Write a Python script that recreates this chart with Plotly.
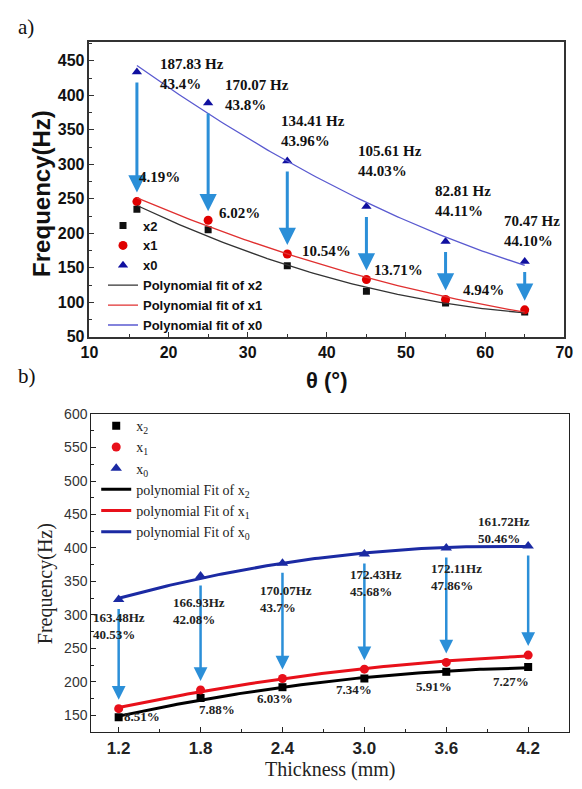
import numpy as np
import plotly.graph_objects as go

# ---------------- data: panel a ----------------
theta = [16, 25, 35, 45, 55, 65]
a_x2 = [235, 205, 153, 116, 99, 86]
a_x1 = [246, 219, 170, 133, 104, 89]
a_x0 = [434, 389, 305, 239, 188, 159]
a_top_labels = ["187.83 Hz<br>43.4%", "170.07 Hz<br>43.8%", "134.41 Hz<br>43.96%",
                "105.61 Hz<br>44.03%", "82.81 Hz<br>44.11%", "70.47 Hz<br>44.10%"]
a_pct_labels = ["4.19%", "6.02%", "10.54%", "13.71%", "4.94%"]

# ---------------- data: panel b ----------------
thick = [1.2, 1.8, 2.4, 3.0, 3.6, 4.2]
b_x2 = [147, 176, 192, 205, 215, 222]
b_x1 = [160, 188, 205, 219, 229, 240]
b_x0 = [323, 358, 377, 391, 400, 403]
b_top_labels = ["163.48Hz<br>40.53%", "166.93Hz<br>42.08%", "170.07Hz<br>43.7%",
                "172.43Hz<br>45.68%", "172.11Hz<br>47.86%", "161.72Hz<br>50.46%"]
b_pct_labels = ["8.51%", "7.88%", "6.03%", "7.34%", "5.91%", "7.27%"]

# label anchor positions (data coords, left/middle anchored)
a_top_pos = [(18.7, 430.8), (26.9, 400.9), (34.0, 348.2), (43.67, 304.1), (53.47, 246.4), (62.16, 203.0)]
a_pct_pos = [(16.0, 282.0), (26.16, 229.4), (36.57, 173.8), (45.75, 146.8), (56.9, 118.3)]
b_top_pos = [(1.0, 284.0), (1.585, 306.5), (2.219, 323.3), (2.882, 347.3), (3.473, 356.1), (3.815, 427.4)]
b_pct_pos = [(1.221, 148.5), (1.777, 158.7), (2.198, 174.8), (2.775, 187.9), (3.366, 193.7), (3.929, 201.0)]

W, H = 582, 789
ARIAL = "Arial, Liberation Sans, sans-serif"
TIMES = "Times New Roman, Liberation Serif, serif"
ARROW = "#2b8fd8"


def fit(x, y, deg=2):
    c = np.polyfit(x, y, deg)
    xs = np.linspace(min(x), max(x), 120)
    return xs, np.polyval(c, xs)


fig = go.Figure()

# ---- panel a traces ----
fig.add_trace(go.Scatter(x=theta, y=a_x2, mode="markers", name="x2",
                         marker=dict(symbol="square", size=7, color="#111111"),
                         xaxis="x", yaxis="y", legend="legend"))
fig.add_trace(go.Scatter(x=theta, y=a_x1, mode="markers", name="x1",
                         marker=dict(symbol="circle", size=9, color="#e00000"),
                         xaxis="x", yaxis="y", legend="legend"))
fig.add_trace(go.Scatter(x=theta, y=a_x0, mode="markers", name="x0",
                         marker=dict(symbol="triangle-up", size=9, color="#1010a0"),
                         xaxis="x", yaxis="y", legend="legend"))
for ys, col, nm in [(a_x2, "#333333", "Polynomial fit of x2"),
                    (a_x1, "#e03030", "Polynomial fit of x1"),
                    (a_x0, "#5a5ad0", "Polynomial fit of x0")]:
    xs, yf = fit(theta, ys)
    fig.add_trace(go.Scatter(x=xs, y=yf, mode="lines", name=nm,
                             line=dict(color=col, width=1.3),
                             xaxis="x", yaxis="y", legend="legend"))

# ---- panel b traces ----
fig.add_trace(go.Scatter(x=thick, y=b_x2, mode="markers", name="x<sub>2</sub>",
                         marker=dict(symbol="square", size=8, color="#000000"),
                         xaxis="x2", yaxis="y2", legend="legend2"))
fig.add_trace(go.Scatter(x=thick, y=b_x1, mode="markers", name="x<sub>1</sub>",
                         marker=dict(symbol="circle", size=9, color="#e8101a"),
                         xaxis="x2", yaxis="y2", legend="legend2"))
fig.add_trace(go.Scatter(x=thick, y=b_x0, mode="markers", name="x<sub>0</sub>",
                         marker=dict(symbol="triangle-up", size=10, color="#1b2aa3"),
                         xaxis="x2", yaxis="y2", legend="legend2"))
for ys, col, nm in [(b_x2, "#000000", "polynomial Fit of x<sub>2</sub>"),
                    (b_x1, "#e8101a", "polynomial Fit of x<sub>1</sub>"),
                    (b_x0, "#1b2aa3", "polynomial Fit of x<sub>0</sub>")]:
    xs, yf = fit(thick, ys)
    fig.add_trace(go.Scatter(x=xs, y=yf, mode="lines", name=nm,
                             line=dict(color=col, width=3),
                             xaxis="x2", yaxis="y2", legend="legend2"))

ann = []
# arrows panel a
for xv, y0, y1 in zip(theta, a_x0, a_x1):
    ann.append(dict(x=xv, y=y1, ax=xv, ay=y0, xref="x", yref="y", axref="x", ayref="y",
                    text="", showarrow=True, arrowhead=2, arrowsize=1.15, arrowwidth=3,
                    arrowcolor=ARROW, standoff=9, startstandoff=9))
for (px, py), t in zip(a_top_pos, a_top_labels):
    ann.append(dict(x=px, y=py, xref="x", yref="y", text=t, showarrow=False,
                    xanchor="left", yanchor="middle", align="left",
                    font=dict(family=TIMES, size=15, color="#111111", weight="bold")))
for (px, py), t in zip(a_pct_pos, a_pct_labels):
    ann.append(dict(x=px, y=py, xref="x", yref="y", text=t, showarrow=False,
                    xanchor="left", yanchor="middle", align="left",
                    font=dict(family=TIMES, size=15, color="#111111", weight="bold")))
# arrows panel b
for xv, y0, y1 in zip(thick, b_x0, b_x1):
    ann.append(dict(x=xv, y=y1, ax=xv, ay=y0, xref="x2", yref="y2", axref="x2", ayref="y2",
                    text="", showarrow=True, arrowhead=2, arrowsize=1.1, arrowwidth=2.5,
                    arrowcolor=ARROW, standoff=9, startstandoff=8))
for (px, py), t in zip(b_top_pos, b_top_labels):
    ann.append(dict(x=px, y=py, xref="x2", yref="y2", text=t, showarrow=False,
                    xanchor="left", yanchor="middle", align="left",
                    font=dict(family=TIMES, size=13, color="#222222", weight="bold")))
for (px, py), t in zip(b_pct_pos, b_pct_labels):
    ann.append(dict(x=px, y=py, xref="x2", yref="y2", text=t, showarrow=False,
                    xanchor="left", yanchor="middle", align="left",
                    font=dict(family=TIMES, size=13, color="#222222", weight="bold")))

# titles and panel letters
ann += [
    dict(x=7 / W, y=1 - 19 / H, xref="paper", yref="paper", text="a)", showarrow=False,
         xanchor="left", yanchor="middle", font=dict(family=TIMES, size=21, color="#111")),
    dict(x=7 / W, y=1 - 376 / H, xref="paper", yref="paper", text="b)", showarrow=False,
         xanchor="left", yanchor="middle", font=dict(family=TIMES, size=21, color="#111")),
    dict(x=34 / W, y=1 - 189 / H, xref="paper", yref="paper", text="Frequency(Hz)",
         showarrow=False, textangle=-90, xanchor="center", yanchor="middle",
         font=dict(family=ARIAL, size=24, color="#111", weight="bold")),
    dict(x=328 / W, y=1 - 381 / H, xref="paper", yref="paper", text="θ (°)",
         showarrow=False, xanchor="center", yanchor="middle",
         font=dict(family=ARIAL, size=22, color="#111", weight="bold")),
    dict(x=37 / W, y=1 - 588 / H, xref="paper", yref="paper", text="Frequency(Hz)",
         showarrow=False, textangle=-90, xanchor="center", yanchor="middle",
         font=dict(family=TIMES, size=20, color="#222")),
    dict(x=332 / W, y=1 - 778 / H, xref="paper", yref="paper", text="Thickness (mm)",
         showarrow=False, xanchor="center", yanchor="middle",
         font=dict(family=TIMES, size=20, color="#222")),
]

axis_a = dict(showline=True, linecolor="#333333", linewidth=1.5, mirror=True,
              ticks="inside", ticklen=5, tickcolor="#333333", showgrid=False, zeroline=False,
              tickfont=dict(family=ARIAL, size=16, color="#111", weight="bold"))
axis_b = dict(showline=True, linecolor="#222222", linewidth=1.2, mirror=True,
              ticks="inside", ticklen=5, tickcolor="#222222", showgrid=False, zeroline=False)

fig.update_layout(
    width=W, height=H,
    margin=dict(l=0, r=0, t=0, b=0),
    paper_bgcolor="white", plot_bgcolor="white",
    xaxis=dict(axis_a, domain=[83 / W, 573 / W], range=[10, 70], dtick=10, tick0=10,
               anchor="y", minor=dict(ticks="inside", ticklen=3, dtick=5, tickcolor="#333")),
    yaxis=dict(axis_a, domain=[1 - 336 / H, 1 - 35 / H], range=[50, 477], dtick=50, tick0=50,
               anchor="x", minor=dict(ticks="inside", ticklen=3, dtick=25, tickcolor="#333")),
    xaxis2=dict(axis_b, domain=[85 / W, 578 / W], range=[1.0, 4.5], tick0=1.2, dtick=0.6,
                tickformat=".1f", anchor="y2",
                tickfont=dict(family=ARIAL, size=17, color="#222", weight="bold"),
                minor=dict(ticks="inside", ticklen=3, dtick=0.3, tickcolor="#222")),
    yaxis2=dict(axis_b, domain=[1 - 740 / H, 1 - 415 / H], range=[125, 600], dtick=50, tick0=150,
                anchor="x2", tickfont=dict(family=ARIAL, size=14, color="#333"),
                minor=dict(ticks="inside", ticklen=3, dtick=25, tickcolor="#222")),
    legend=dict(x=97 / W, y=1 - 207 / H, xanchor="left", yanchor="top",
                bgcolor="rgba(0,0,0,0)", tracegroupgap=0,
                font=dict(family=ARIAL, size=13, color="#111", weight="bold")),
    legend2=dict(x=90 / W, y=1 - 411 / H, xanchor="left", yanchor="top",
                 bgcolor="rgba(0,0,0,0)", tracegroupgap=0,
                 font=dict(family=TIMES, size=14, color="#222")),
    annotations=ann,
    showlegend=True,
)

fig.write_html("out.html", config={"displayModeBar": False},
               post_script="document.body.style.margin='0';document.body.style.overflow='hidden';")
